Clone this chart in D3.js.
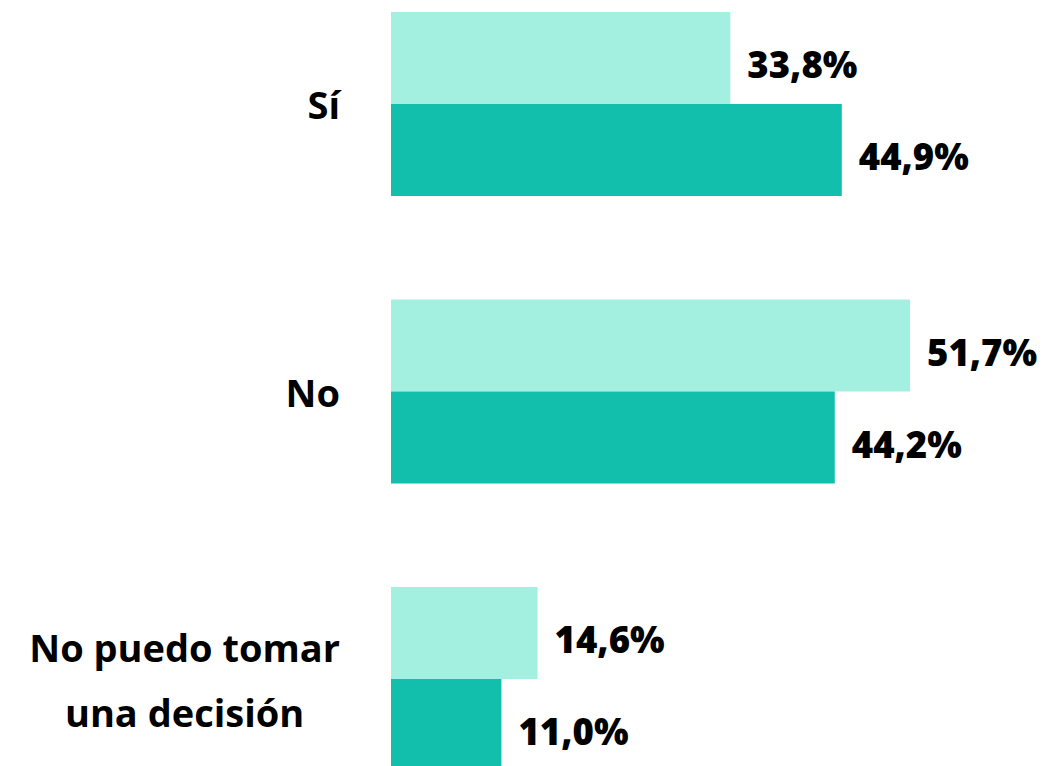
<!DOCTYPE html>
<html>
<head>
<meta charset="utf-8">
<script src="https://cdn.jsdelivr.net/npm/d3@7"></script>
<style>
  html, body { margin: 0; padding: 0; background: #fff; }
  svg { display: block; }
</style>
</head>
<body>
<svg id="chart"></svg>
<script>
// data
var categories = [["Sí"], ["No"], ["No puedo tomar", "una decisión"]];
var seriesNames = ["serie1", "serie2"];
var serie1 = [33.8, 51.7, 14.6];
var serie2 = [44.9, 44.2, 11.0];

var width = 1046, height = 766;
var LightColor = "#a3f0e1", DarkColor = "#12bfad", TextColor = "#000";
var colors = [LightColor, DarkColor];

var svg = d3.select("#chart")
    .attr("width", width)
    .attr("height", height);

var keys = categories.map(function(c) { return c.join(" "); });

var y = d3.scaleBand()
    .domain(keys)
    .range([12, 771])
    .paddingInner(0.36)
    .paddingOuter(0);

var ySub = d3.scaleBand()
    .domain(seriesNames)
    .range([0, y.bandwidth()]);

var x = d3.scaleLinear()
    .domain([0, 100])
    .range([391, 1395]);

var rows = keys.map(function(k, i) {
  return { key: k, lines: categories[i], values: [serie1[i], serie2[i]] };
});

var groups = svg.selectAll("g.group")
    .data(rows)
    .enter().append("g")
    .attr("class", "group")
    .attr("transform", function(d) { return "translate(0," + y(d.key) + ")"; });

groups.each(function(d) {
  var g = d3.select(this);
  d.values.forEach(function(v, j) {
    var name = seriesNames[j];
    g.append("rect")
      .attr("x", x(0))
      .attr("y", ySub(name))
      .attr("width", x(v) - x(0))
      .attr("height", ySub.bandwidth())
      .attr("fill", colors[j]);
    g.append("text")
      .attr("x", x(v) + 17)
      .attr("y", ySub(name) + ySub.bandwidth() / 2 + 20)
      .style("font-family", "'Open Sans', sans-serif")
      .style("font-weight", 800)
      .style("font-size", "36.5px")
      .attr("fill", TextColor)
      .attr("text-anchor", "start")
      .text(d3.format(".1f")(v).replace(".", ",") + "%");
  });

  // category label: block right aligned at 340, lines centred inside block
  var lineH = 65;
  var n = d.lines.length;
  var mid = y.bandwidth() / 2;
  var label = g.append("g");
  var texts = d.lines.map(function(line, k) {
    return label.append("text")
      .attr("y", mid + 15 + (k - (n - 1) / 2) * lineH)
      .style("font-family", "'Open Sans', sans-serif")
      .style("font-weight", 700)
      .style("font-size", "38px")
      .attr("fill", TextColor)
      .attr("text-anchor", "middle")
      .text(line);
  });
  var maxW = d3.max(texts, function(t) { return t.node().getComputedTextLength(); });
  texts.forEach(function(t) { t.attr("x", 340 - maxW / 2); });
});
</script>
</body>
</html>
